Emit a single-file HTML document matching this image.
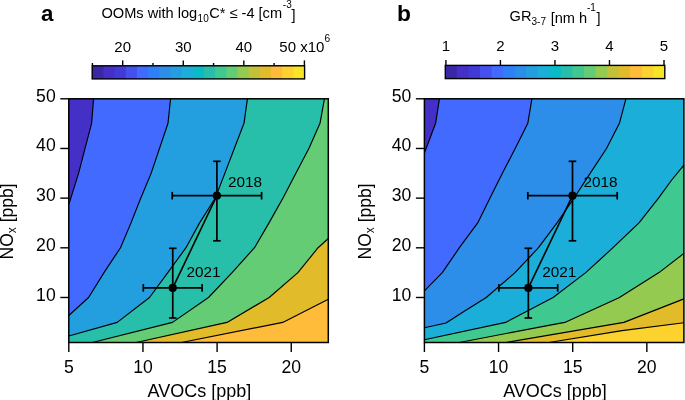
<!DOCTYPE html>
<html><head><meta charset="utf-8"><style>
html,body{margin:0;padding:0;background:#fff;}
svg{display:block;font-family:"Liberation Sans", sans-serif;will-change:transform;}
</style></head><body>
<svg width="685" height="400" viewBox="0 0 685 400" font-family='"Liberation Sans", sans-serif' fill="#000">
<rect x="68.8" y="98.8" width="259.50" height="243.70" fill="#FFBC3A"/>
<polygon points="328.30,299.30 282.70,322.40 181.42,342.50 68.80,342.50 68.80,98.80 328.30,98.80" fill="#E2BB2B"/>
<polygon points="328.30,238.50 318.10,247.70 297.90,272.60 269.20,297.50 227.00,322.40 136.11,342.50 68.80,342.50 68.80,98.80 328.30,98.80" fill="#64CC74"/>
<polygon points="324.40,98.80 320.00,123.30 309.00,148.20 296.00,173.10 283.00,198.00 269.00,222.90 254.50,247.70 232.10,272.60 208.50,297.50 172.50,322.40 92.31,342.50 68.80,342.50 68.80,98.80" fill="#28BFAA"/>
<polygon points="247.40,98.80 244.00,123.30 234.40,148.20 224.90,173.10 215.30,198.00 199.60,222.90 186.00,247.70 167.80,272.60 149.50,297.50 117.20,322.40 68.80,336.00 68.80,98.80" fill="#239FE0"/>
<polygon points="170.60,98.80 168.00,123.30 151.20,173.10 140.00,200.00 131.00,222.90 120.50,247.70 104.00,272.60 88.60,297.50 68.80,315.50 68.80,98.80" fill="#426AFF"/>
<polygon points="93.60,98.80 91.60,123.30 85.10,148.20 78.60,173.10 68.80,204.60 68.80,98.80" fill="#4430C6"/>
<polyline points="93.60,98.80 91.60,123.30 85.10,148.20 78.60,173.10 68.80,204.60" fill="none" stroke="#000" stroke-width="1.15" stroke-linejoin="round"/>
<polyline points="170.60,98.80 168.00,123.30 151.20,173.10 140.00,200.00 131.00,222.90 120.50,247.70 104.00,272.60 88.60,297.50 68.80,315.50" fill="none" stroke="#000" stroke-width="1.15" stroke-linejoin="round"/>
<polyline points="247.40,98.80 244.00,123.30 234.40,148.20 224.90,173.10 215.30,198.00 199.60,222.90 186.00,247.70 167.80,272.60 149.50,297.50 117.20,322.40 68.80,336.00" fill="none" stroke="#000" stroke-width="1.15" stroke-linejoin="round"/>
<polyline points="324.40,98.80 320.00,123.30 309.00,148.20 296.00,173.10 283.00,198.00 269.00,222.90 254.50,247.70 232.10,272.60 208.50,297.50 172.50,322.40 92.31,342.50" fill="none" stroke="#000" stroke-width="1.15" stroke-linejoin="round"/>
<polyline points="328.30,238.50 318.10,247.70 297.90,272.60 269.20,297.50 227.00,322.40 136.11,342.50" fill="none" stroke="#000" stroke-width="1.15" stroke-linejoin="round"/>
<polyline points="328.30,299.30 282.70,322.40 181.42,342.50" fill="none" stroke="#000" stroke-width="1.15" stroke-linejoin="round"/>
<rect x="424.40000000000003" y="98.8" width="259.50" height="243.70" fill="#FCD22E"/>
<polygon points="683.90,322.70 622.00,330.60 548.89,342.50 424.40,342.50 424.40,98.80 683.90,98.80" fill="#E2BB2B"/>
<polygon points="683.90,298.90 623.90,322.40 505.79,342.50 424.40,342.50 424.40,98.80 683.90,98.80" fill="#94CA50"/>
<polygon points="683.90,253.40 659.00,272.60 619.00,297.70 564.80,322.40 550.00,325.10 459.29,342.50 424.40,342.50 424.40,98.80 683.90,98.80" fill="#40C891"/>
<polygon points="683.90,165.10 671.50,180.25 658.50,198.10 639.00,222.90 613.00,247.70 585.75,272.60 553.10,297.50 505.60,322.40 424.40,339.80 424.40,98.80 683.90,98.80" fill="#1AAED8"/>
<polygon points="625.90,98.80 619.40,123.30 606.50,148.50 590.30,173.10 574.10,198.00 557.00,222.90 538.50,247.70 515.00,272.60 486.25,297.50 463.10,311.90 446.00,323.00 424.40,327.80 424.40,98.80" fill="#2D8EEA"/>
<polygon points="531.90,98.80 527.80,123.30 515.30,148.20 502.50,173.10 490.00,198.00 477.70,222.90 459.40,247.70 442.30,272.60 424.40,290.80 424.40,98.80" fill="#426AFF"/>
<polygon points="439.40,98.80 435.60,123.30 424.40,153.00 424.40,98.80" fill="#4430C6"/>
<polyline points="439.40,98.80 435.60,123.30 424.40,153.00" fill="none" stroke="#000" stroke-width="1.15" stroke-linejoin="round"/>
<polyline points="531.90,98.80 527.80,123.30 515.30,148.20 502.50,173.10 490.00,198.00 477.70,222.90 459.40,247.70 442.30,272.60 424.40,290.80" fill="none" stroke="#000" stroke-width="1.15" stroke-linejoin="round"/>
<polyline points="625.90,98.80 619.40,123.30 606.50,148.50 590.30,173.10 574.10,198.00 557.00,222.90 538.50,247.70 515.00,272.60 486.25,297.50 463.10,311.90 446.00,323.00 424.40,327.80" fill="none" stroke="#000" stroke-width="1.15" stroke-linejoin="round"/>
<polyline points="683.90,165.10 671.50,180.25 658.50,198.10 639.00,222.90 613.00,247.70 585.75,272.60 553.10,297.50 505.60,322.40 424.40,339.80" fill="none" stroke="#000" stroke-width="1.15" stroke-linejoin="round"/>
<polyline points="683.90,253.40 659.00,272.60 619.00,297.70 564.80,322.40 550.00,325.10 459.29,342.50" fill="none" stroke="#000" stroke-width="1.15" stroke-linejoin="round"/>
<polyline points="683.90,298.90 623.90,322.40 505.79,342.50" fill="none" stroke="#000" stroke-width="1.15" stroke-linejoin="round"/>
<polyline points="683.90,322.70 622.00,330.60 548.89,342.50" fill="none" stroke="#000" stroke-width="1.15" stroke-linejoin="round"/>
<rect x="68.8" y="98.8" width="259.50" height="243.70" fill="none" stroke="#000" stroke-width="1.5"/>
<line x1="60.30" y1="297.48" x2="68.80" y2="297.48" stroke="#000" stroke-width="1.4"/>
<text x="55.70" y="301.30" text-anchor="end" font-size="17.6">10</text>
<line x1="60.30" y1="247.81" x2="68.80" y2="247.81" stroke="#000" stroke-width="1.4"/>
<text x="55.70" y="251.40" text-anchor="end" font-size="17.6">20</text>
<line x1="60.30" y1="198.14" x2="68.80" y2="198.14" stroke="#000" stroke-width="1.4"/>
<text x="55.70" y="201.40" text-anchor="end" font-size="17.6">30</text>
<line x1="60.30" y1="148.47" x2="68.80" y2="148.47" stroke="#000" stroke-width="1.4"/>
<text x="55.70" y="151.40" text-anchor="end" font-size="17.6">40</text>
<line x1="60.30" y1="98.80" x2="68.80" y2="98.80" stroke="#000" stroke-width="1.4"/>
<text x="55.70" y="102.10" text-anchor="end" font-size="17.6">50</text>
<line x1="68.80" y1="342.50" x2="68.80" y2="352.00" stroke="#000" stroke-width="1.4"/>
<text x="68.80" y="372.7" text-anchor="middle" font-size="17.6">5</text>
<line x1="142.95" y1="342.50" x2="142.95" y2="352.00" stroke="#000" stroke-width="1.4"/>
<text x="142.95" y="372.7" text-anchor="middle" font-size="17.6">10</text>
<line x1="217.10" y1="342.50" x2="217.10" y2="352.00" stroke="#000" stroke-width="1.4"/>
<text x="217.10" y="372.7" text-anchor="middle" font-size="17.6">15</text>
<line x1="291.25" y1="342.50" x2="291.25" y2="352.00" stroke="#000" stroke-width="1.4"/>
<text x="291.25" y="372.7" text-anchor="middle" font-size="17.6">20</text>
<rect x="424.40000000000003" y="98.8" width="259.50" height="243.70" fill="none" stroke="#000" stroke-width="1.5"/>
<line x1="415.90" y1="297.48" x2="424.40" y2="297.48" stroke="#000" stroke-width="1.4"/>
<text x="411.30" y="301.30" text-anchor="end" font-size="17.6">10</text>
<line x1="415.90" y1="247.81" x2="424.40" y2="247.81" stroke="#000" stroke-width="1.4"/>
<text x="411.30" y="251.40" text-anchor="end" font-size="17.6">20</text>
<line x1="415.90" y1="198.14" x2="424.40" y2="198.14" stroke="#000" stroke-width="1.4"/>
<text x="411.30" y="201.40" text-anchor="end" font-size="17.6">30</text>
<line x1="415.90" y1="148.47" x2="424.40" y2="148.47" stroke="#000" stroke-width="1.4"/>
<text x="411.30" y="151.40" text-anchor="end" font-size="17.6">40</text>
<line x1="415.90" y1="98.80" x2="424.40" y2="98.80" stroke="#000" stroke-width="1.4"/>
<text x="411.30" y="102.10" text-anchor="end" font-size="17.6">50</text>
<line x1="424.40" y1="342.50" x2="424.40" y2="352.00" stroke="#000" stroke-width="1.4"/>
<text x="424.40" y="372.7" text-anchor="middle" font-size="17.6">5</text>
<line x1="498.55" y1="342.50" x2="498.55" y2="352.00" stroke="#000" stroke-width="1.4"/>
<text x="498.55" y="372.7" text-anchor="middle" font-size="17.6">10</text>
<line x1="572.70" y1="342.50" x2="572.70" y2="352.00" stroke="#000" stroke-width="1.4"/>
<text x="572.70" y="372.7" text-anchor="middle" font-size="17.6">15</text>
<line x1="646.85" y1="342.50" x2="646.85" y2="352.00" stroke="#000" stroke-width="1.4"/>
<text x="646.85" y="372.7" text-anchor="middle" font-size="17.6">20</text>
<line x1="216.9" y1="195.7" x2="172.75" y2="287.9" stroke="#000" stroke-width="1.6"/>
<line x1="172.2" y1="195.7" x2="261.6" y2="195.7" stroke="#000" stroke-width="1.7"/>
<line x1="216.9" y1="161.3" x2="216.9" y2="240.8" stroke="#000" stroke-width="1.7"/>
<line x1="172.2" y1="191.89999999999998" x2="172.2" y2="199.5" stroke="#000" stroke-width="1.7"/>
<line x1="261.6" y1="191.89999999999998" x2="261.6" y2="199.5" stroke="#000" stroke-width="1.7"/>
<line x1="213.1" y1="161.3" x2="220.70000000000002" y2="161.3" stroke="#000" stroke-width="1.7"/>
<line x1="213.1" y1="240.8" x2="220.70000000000002" y2="240.8" stroke="#000" stroke-width="1.7"/>
<circle cx="216.9" cy="195.7" r="4.1" fill="#000"/>
<line x1="143.3" y1="287.9" x2="202.1" y2="287.9" stroke="#000" stroke-width="1.7"/>
<line x1="172.75" y1="248.3" x2="172.75" y2="318.0" stroke="#000" stroke-width="1.7"/>
<line x1="143.3" y1="284.09999999999997" x2="143.3" y2="291.7" stroke="#000" stroke-width="1.7"/>
<line x1="202.1" y1="284.09999999999997" x2="202.1" y2="291.7" stroke="#000" stroke-width="1.7"/>
<line x1="168.95" y1="248.3" x2="176.55" y2="248.3" stroke="#000" stroke-width="1.7"/>
<line x1="168.95" y1="318.0" x2="176.55" y2="318.0" stroke="#000" stroke-width="1.7"/>
<circle cx="172.75" cy="287.9" r="4.1" fill="#000"/>
<text x="228.0" y="187.2" font-size="15.3">2018</text>
<text x="186.6" y="277.0" font-size="15.3">2021</text>
<line x1="572.5" y1="195.7" x2="528.35" y2="287.9" stroke="#000" stroke-width="1.6"/>
<line x1="527.8" y1="195.7" x2="617.2" y2="195.7" stroke="#000" stroke-width="1.7"/>
<line x1="572.5" y1="161.3" x2="572.5" y2="240.8" stroke="#000" stroke-width="1.7"/>
<line x1="527.8" y1="191.89999999999998" x2="527.8" y2="199.5" stroke="#000" stroke-width="1.7"/>
<line x1="617.2" y1="191.89999999999998" x2="617.2" y2="199.5" stroke="#000" stroke-width="1.7"/>
<line x1="568.7" y1="161.3" x2="576.3" y2="161.3" stroke="#000" stroke-width="1.7"/>
<line x1="568.7" y1="240.8" x2="576.3" y2="240.8" stroke="#000" stroke-width="1.7"/>
<circle cx="572.5" cy="195.7" r="4.1" fill="#000"/>
<line x1="498.90000000000003" y1="287.9" x2="557.7" y2="287.9" stroke="#000" stroke-width="1.7"/>
<line x1="528.35" y1="248.3" x2="528.35" y2="318.0" stroke="#000" stroke-width="1.7"/>
<line x1="498.90000000000003" y1="284.09999999999997" x2="498.90000000000003" y2="291.7" stroke="#000" stroke-width="1.7"/>
<line x1="557.7" y1="284.09999999999997" x2="557.7" y2="291.7" stroke="#000" stroke-width="1.7"/>
<line x1="524.5500000000001" y1="248.3" x2="532.15" y2="248.3" stroke="#000" stroke-width="1.7"/>
<line x1="524.5500000000001" y1="318.0" x2="532.15" y2="318.0" stroke="#000" stroke-width="1.7"/>
<circle cx="528.35" cy="287.9" r="4.1" fill="#000"/>
<text x="583.6" y="187.2" font-size="15.3">2018</text>
<text x="542.2" y="277.0" font-size="15.3">2021</text>
<rect x="92.20" y="65.8" width="212.40" height="13.100000000000009" fill="#3A27A6"/>
<rect x="103.38" y="65.8" width="201.22" height="13.100000000000009" fill="#4430C6"/>
<rect x="114.56" y="65.8" width="190.04" height="13.100000000000009" fill="#4338D8"/>
<rect x="125.74" y="65.8" width="178.86" height="13.100000000000009" fill="#4650EE"/>
<rect x="136.92" y="65.8" width="167.68" height="13.100000000000009" fill="#426AFF"/>
<rect x="148.09" y="65.8" width="156.51" height="13.100000000000009" fill="#2E80F7"/>
<rect x="159.27" y="65.8" width="145.33" height="13.100000000000009" fill="#2D8EEA"/>
<rect x="170.45" y="65.8" width="134.15" height="13.100000000000009" fill="#239FE0"/>
<rect x="181.63" y="65.8" width="122.97" height="13.100000000000009" fill="#1AAED8"/>
<rect x="192.81" y="65.8" width="111.79" height="13.100000000000009" fill="#08BBC6"/>
<rect x="203.99" y="65.8" width="100.61" height="13.100000000000009" fill="#28BFAA"/>
<rect x="215.17" y="65.8" width="89.43" height="13.100000000000009" fill="#40C891"/>
<rect x="226.35" y="65.8" width="78.25" height="13.100000000000009" fill="#64CC74"/>
<rect x="237.53" y="65.8" width="67.07" height="13.100000000000009" fill="#94CA50"/>
<rect x="248.71" y="65.8" width="55.89" height="13.100000000000009" fill="#C2C13A"/>
<rect x="259.88" y="65.8" width="44.72" height="13.100000000000009" fill="#E2BB2B"/>
<rect x="271.06" y="65.8" width="33.54" height="13.100000000000009" fill="#FFBC3A"/>
<rect x="282.24" y="65.8" width="22.36" height="13.100000000000009" fill="#FCD22E"/>
<rect x="293.42" y="65.8" width="11.18" height="13.100000000000009" fill="#F5E526"/>
<rect x="92.20" y="65.8" width="212.40" height="13.100000000000009" fill="none" stroke="#000" stroke-width="1.4"/>
<line x1="92.40" y1="63" x2="92.40" y2="65.8" stroke="#000" stroke-width="1.4"/>
<line x1="122.69" y1="60.4" x2="122.69" y2="65.8" stroke="#000" stroke-width="1.4"/>
<line x1="152.97" y1="63" x2="152.97" y2="65.8" stroke="#000" stroke-width="1.4"/>
<line x1="183.26" y1="60.4" x2="183.26" y2="65.8" stroke="#000" stroke-width="1.4"/>
<line x1="213.54" y1="63" x2="213.54" y2="65.8" stroke="#000" stroke-width="1.4"/>
<line x1="243.83" y1="60.4" x2="243.83" y2="65.8" stroke="#000" stroke-width="1.4"/>
<line x1="274.11" y1="63" x2="274.11" y2="65.8" stroke="#000" stroke-width="1.4"/>
<line x1="304.40" y1="60.4" x2="304.40" y2="65.8" stroke="#000" stroke-width="1.4"/>
<text x="122.69" y="51.6" text-anchor="middle" font-size="15">20</text>
<text x="183.26" y="51.6" text-anchor="middle" font-size="15">30</text>
<text x="243.83" y="51.6" text-anchor="middle" font-size="15">40</text>
<text x="304.7" y="51.6" text-anchor="middle" font-size="15">50 x10<tspan dy="-9.2" font-size="10.2">6</tspan></text>
<rect x="445.30" y="65.4" width="219.50" height="13.199999999999989" fill="#3A27A6"/>
<rect x="456.85" y="65.4" width="207.95" height="13.199999999999989" fill="#4430C6"/>
<rect x="468.41" y="65.4" width="196.39" height="13.199999999999989" fill="#4338D8"/>
<rect x="479.96" y="65.4" width="184.84" height="13.199999999999989" fill="#4650EE"/>
<rect x="491.51" y="65.4" width="173.29" height="13.199999999999989" fill="#426AFF"/>
<rect x="503.06" y="65.4" width="161.74" height="13.199999999999989" fill="#2E80F7"/>
<rect x="514.62" y="65.4" width="150.18" height="13.199999999999989" fill="#2D8EEA"/>
<rect x="526.17" y="65.4" width="138.63" height="13.199999999999989" fill="#239FE0"/>
<rect x="537.72" y="65.4" width="127.08" height="13.199999999999989" fill="#1AAED8"/>
<rect x="549.27" y="65.4" width="115.53" height="13.199999999999989" fill="#08BBC6"/>
<rect x="560.83" y="65.4" width="103.97" height="13.199999999999989" fill="#28BFAA"/>
<rect x="572.38" y="65.4" width="92.42" height="13.199999999999989" fill="#40C891"/>
<rect x="583.93" y="65.4" width="80.87" height="13.199999999999989" fill="#64CC74"/>
<rect x="595.48" y="65.4" width="69.32" height="13.199999999999989" fill="#94CA50"/>
<rect x="607.04" y="65.4" width="57.76" height="13.199999999999989" fill="#C2C13A"/>
<rect x="618.59" y="65.4" width="46.21" height="13.199999999999989" fill="#E2BB2B"/>
<rect x="630.14" y="65.4" width="34.66" height="13.199999999999989" fill="#FFBC3A"/>
<rect x="641.69" y="65.4" width="23.11" height="13.199999999999989" fill="#FCD22E"/>
<rect x="653.25" y="65.4" width="11.55" height="13.199999999999989" fill="#F5E526"/>
<rect x="445.30" y="65.4" width="219.50" height="13.199999999999989" fill="none" stroke="#000" stroke-width="1.4"/>
<line x1="445.90" y1="60" x2="445.90" y2="65.4" stroke="#000" stroke-width="1.4"/>
<text x="445.90" y="51" text-anchor="middle" font-size="15">1</text>
<line x1="500.42" y1="60" x2="500.42" y2="65.4" stroke="#000" stroke-width="1.4"/>
<text x="500.42" y="51" text-anchor="middle" font-size="15">2</text>
<line x1="554.95" y1="60" x2="554.95" y2="65.4" stroke="#000" stroke-width="1.4"/>
<text x="554.95" y="51" text-anchor="middle" font-size="15">3</text>
<line x1="609.47" y1="60" x2="609.47" y2="65.4" stroke="#000" stroke-width="1.4"/>
<text x="609.47" y="51" text-anchor="middle" font-size="15">4</text>
<line x1="664.00" y1="60" x2="664.00" y2="65.4" stroke="#000" stroke-width="1.4"/>
<text x="664.00" y="51" text-anchor="middle" font-size="15">5</text>
<text x="41" y="21.2" font-size="22.3" font-weight="bold">a</text>
<text x="397" y="21.1" font-size="22.8" font-weight="bold">b</text>
<text x="101.5" y="17.7" font-size="14.6">OOMs with log</text>
<text x="197.6" y="21.75" font-size="10">10</text>
<text x="209.2" y="17.7" font-size="14.6">C* ≤ -4 [cm</text>
<text x="282.8" y="7.9" font-size="10">-3</text>
<text x="291.4" y="19.9" font-size="14.6">]</text>
<text x="509.6" y="20.9" font-size="14.6">GR</text>
<text x="531.5" y="24.75" font-size="10">3-7</text>
<text x="550.7" y="22.9" font-size="14.6">[nm h</text>
<text x="586.9" y="10.5" font-size="10">-1</text>
<text x="596.6" y="23.2" font-size="14.6">]</text>
<text x="199.40" y="396.6" text-anchor="middle" font-size="18">AVOCs [ppb]</text>
<text transform="translate(12.90,221.4) rotate(-90)" text-anchor="middle" font-size="17.5">NO<tspan dy="3.0" font-size="12">x</tspan><tspan dy="-3.0"> [ppb]</tspan></text>
<text x="555.00" y="396.6" text-anchor="middle" font-size="18">AVOCs [ppb]</text>
<text transform="translate(370.60,221.4) rotate(-90)" text-anchor="middle" font-size="17.5">NO<tspan dy="3.0" font-size="12">x</tspan><tspan dy="-3.0"> [ppb]</tspan></text>
</svg>
</body></html>
